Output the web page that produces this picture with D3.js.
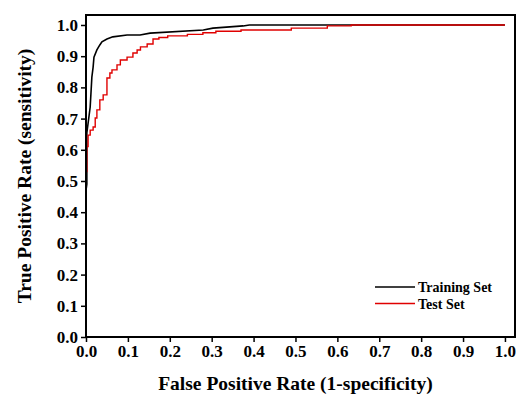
<!DOCTYPE html>
<html>
<head>
<meta charset="utf-8">
<style>
  body { margin: 0; background: #fff; }
  text { font-family: "Liberation Serif", "Times New Roman", serif; font-weight: bold; fill: #000; }
</style>
</head>
<body>
<svg width="520" height="401"></svg>
<script src="https://cdn.jsdelivr.net/npm/d3@7/dist/d3.min.js"></script>
<script>
// ROC points: [false positive rate, true positive rate]
var trainFPR = [0, 0, 0.002, 0.002, 0.01, 0.014, 0.017, 0.019, 0.026, 0.033, 0.038, 0.05, 0.064, 0.098, 0.129, 0.153, 0.28, 0.303, 0.375, 0.39, 1.0];
var trainTPR = [0, 0.47, 0.49, 0.654, 0.737, 0.833, 0.865, 0.897, 0.92, 0.936, 0.946, 0.955, 0.962, 0.968, 0.968, 0.974, 0.984, 0.99, 0.997, 1.0, 1.0];

// test set is a step curve: each point is the corner where TPR jumps
var testFPR = [0, 0.002, 0.005, 0.01, 0.017, 0.022, 0.026, 0.033, 0.041, 0.05, 0.057, 0.062, 0.074, 0.082, 0.098, 0.112, 0.122, 0.13, 0.146, 0.16, 0.174, 0.195, 0.242, 0.279, 0.31, 0.37, 0.49, 0.576, 0.633, 0.88, 1.0];
var testTPR = [0, 0.53, 0.61, 0.647, 0.663, 0.673, 0.702, 0.728, 0.76, 0.776, 0.83, 0.846, 0.856, 0.872, 0.888, 0.897, 0.91, 0.92, 0.93, 0.939, 0.955, 0.96, 0.965, 0.97, 0.975, 0.98, 0.984, 0.99, 0.997, 1.0, 1.0];

var seriesNames = ["Training Set", "Test Set"];
var seriesColors = ["#000000", "#e00000"];
var xTicks = [0, 0.1, 0.2, 0.3, 0.4, 0.5, 0.6, 0.7, 0.8, 0.9, 1.0];
var yTicks = [0, 0.1, 0.2, 0.3, 0.4, 0.5, 0.6, 0.7, 0.8, 0.9, 1.0];

var svg = d3.select("svg"),
    margin = {top: 15, right: 5, bottom: 64, left: 86},
    width = 520 - margin.left - margin.right,
    height = 401 - margin.top - margin.bottom,
    g = svg.append("g").attr("transform", "translate(" + margin.left + "," + margin.top + ")");

var x = d3.scaleLinear().domain([0, 1.024]).range([0, width]);
var y = d3.scaleLinear().domain([0, 1.032]).range([height, 0]);

// axes
var xAxis = g.append("g")
    .attr("transform", "translate(0," + height + ")")
    .call(d3.axisBottom(x).tickValues(xTicks).tickFormat(d3.format(".1f")).tickSizeInner(5).tickSizeOuter(0).tickPadding(3));
var yAxis = g.append("g")
    .call(d3.axisLeft(y).tickValues(yTicks).tickFormat(d3.format(".1f")).tickSizeInner(5).tickSizeOuter(0).tickPadding(3));

[xAxis, yAxis].forEach(function(a) {
  a.select(".domain").remove();
  a.selectAll(".tick line").attr("stroke", "#000").attr("stroke-width", 1.5);
  a.selectAll(".tick text").style("font-size", "17px");
});

// lines
var line = d3.line().x(function(d) { return x(d[0]); }).y(function(d) { return y(d[1]); });
var stepLine = d3.line().curve(d3.curveStepBefore).x(function(d) { return x(d[0]); }).y(function(d) { return y(d[1]); });

var trainData = trainFPR.map(function(v, i) { return [v, trainTPR[i]]; });
var testData = testFPR.map(function(v, i) { return [v, testTPR[i]]; });

g.append("path").datum(trainData)
  .attr("d", line).attr("fill", "none")
  .attr("stroke", seriesColors[0]).attr("stroke-width", 1.6);
g.append("path").datum(testData)
  .attr("d", stepLine).attr("fill", "none")
  .attr("stroke", seriesColors[1]).attr("stroke-width", 1.4);

// frame
g.append("rect")
  .attr("x", 0).attr("y", 0).attr("width", width).attr("height", height)
  .attr("fill", "none").attr("stroke", "#000").attr("stroke-width", 2);

// legend
var legend = g.selectAll("g.legend")
  .data(seriesNames)
  .enter()
  .append("g")
  .attr("class", "legend")
  .attr("transform", function(d, i) { return "translate(" + (375 - margin.left) + "," + (287 - margin.top + i * 16.5) + ")"; });
legend.append("line")
  .attr("x1", 0).attr("x2", 40).attr("y1", 0).attr("y2", 0)
  .attr("stroke", function(d, i) { return seriesColors[i]; }).attr("stroke-width", 1.6);
legend.append("text")
  .attr("x", 43).attr("y", 5)
  .style("font-size", "14px")
  .text(function(d) { return d; });

// axis titles
svg.append("text")
  .attr("x", margin.left + x(0.5)).attr("y", 390)
  .attr("text-anchor", "middle").style("font-size", "19.5px")
  .text("False Positive Rate (1-specificity)");
svg.append("text")
  .attr("transform", "translate(31," + (margin.top + height / 2) + ") rotate(-90)")
  .attr("text-anchor", "middle").style("font-size", "19.5px")
  .text("True Positive Rate (sensitivity)");
</script>
</body>
</html>
